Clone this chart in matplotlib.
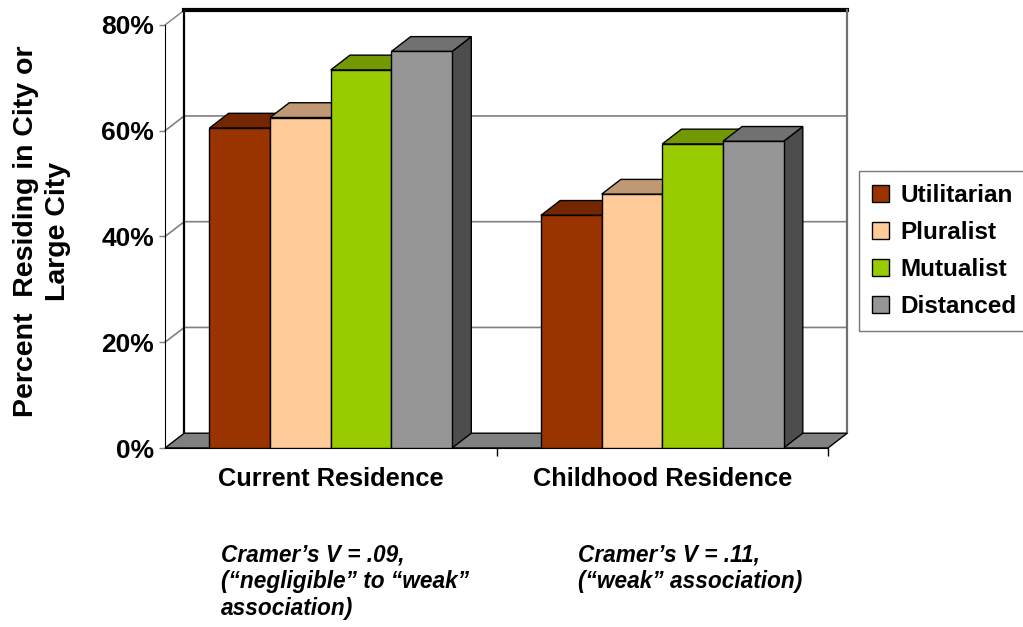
import numpy as np
import matplotlib
matplotlib.use('Agg')
import matplotlib.pyplot as plt
from matplotlib.patches import Polygon, Patch
from matplotlib.colors import to_rgb

categories = ['Current Residence', 'Childhood Residence']
series_names = ['Utilitarian', 'Pluralist', 'Mutualist', 'Distanced']
utilitarian = [60.5, 44]
pluralist = [62.5, 48]
mutualist = [71.5, 57.5]
distanced = [75, 58]
series_colors = ['#993300', '#FFCC99', '#99CC00', '#969696']
y_ticks = [0, 20, 40, 60, 80]
notes = ['Cramer\u2019s V = .09,\n(\u201cnegligible\u201d to \u201cweak\u201d\nassociation)',
         'Cramer\u2019s V = .11,\n(\u201cweak\u201d association)']

plt.rcParams['font.family'] = ['Liberation Sans', 'DejaVu Sans']


def shade(color, k):
    return tuple(c * k for c in to_rgb(color))


W, H = 1023, 627
fig = plt.figure(figsize=(W / 100, H / 100), dpi=100)
ax = fig.add_axes([165 / W, 179 / H, 663 / W, 423 / H])
ax.set_xlim(0, 2)
ax.set_ylim(0, 80)

# depth of the fake 3d box, in data units
dx, dy = 0.058, 2.8
ymax = y_ticks[-1]
xmax = len(categories)

# walls and floor
ax.add_patch(Polygon([(0, 0), (dx, dy), (dx, ymax + dy), (0, ymax)],
                     facecolor='white', edgecolor='none', zorder=1, clip_on=False))
ax.add_patch(Polygon([(dx, dy), (xmax + dx, dy), (xmax + dx, ymax + dy), (dx, ymax + dy)],
                     facecolor='white', edgecolor='none', zorder=1, clip_on=False))
for v in y_ticks[1:-1]:
    ax.plot([0, dx, xmax + dx], [v, v + dy, v + dy], color='#808080', lw=1.2,
            zorder=1.2, clip_on=False)
ax.plot([0, dx], [ymax, ymax + dy], color='#808080', lw=1.0, zorder=1.2, clip_on=False)
ax.plot([dx, xmax + dx], [ymax + dy, ymax + dy], color='black', lw=3, zorder=1.3,
        clip_on=False, solid_capstyle='projecting')
ax.plot([dx, dx], [dy, ymax + dy], color='black', lw=1.6, zorder=1.3, clip_on=False)
ax.plot([xmax + dx, xmax + dx], [dy, ymax + dy], color='#707070', lw=1.6, zorder=1.3,
        clip_on=False)
ax.add_patch(Polygon([(0, 0), (xmax, 0), (xmax + dx, dy), (dx, dy)],
                     facecolor='#808080', edgecolor='black', lw=1, zorder=1.5, clip_on=False))

# bars
values = [utilitarian, pluralist, mutualist, distanced]
n = len(values)
w = 0.183
x = np.arange(len(categories)) + 0.5 - n * w / 2
for j, (vals, col) in enumerate(zip(values, series_colors)):
    x0s = x + j * w
    z = 3 + j
    for x0, h in zip(x0s, vals):
        ax.add_patch(Polygon([(x0 + w, 0), (x0 + w + dx, dy), (x0 + w + dx, h + dy), (x0 + w, h)],
                             facecolor=shade(col, 0.51), edgecolor='black', lw=1,
                             zorder=z - 0.1, clip_on=False))
        ax.add_patch(Polygon([(x0, h), (x0 + w, h), (x0 + w + dx, h + dy), (x0 + dx, h + dy)],
                             facecolor=shade(col, 0.75), edgecolor='black', lw=1,
                             zorder=z - 0.1, clip_on=False))
    ax.bar(x0s, vals, w, align='edge', color=col, edgecolor='black', lw=1, zorder=z)

# axes
for s in ['top', 'right']:
    ax.spines[s].set_visible(False)
ax.spines['left'].set_color('black')
ax.spines['bottom'].set_color('black')
ax.spines['left'].set_zorder(2)
ax.spines['bottom'].set_zorder(2)

ax.set_yticks(y_ticks)
ax.set_yticklabels([f'{v}%' for v in y_ticks], fontsize=19, fontweight='bold')
ax.tick_params(axis='y', length=4, width=1, color='#808080', pad=4)

ax.set_xticks(np.arange(1, xmax + 1))
ax.set_xticklabels([])
ax.tick_params(axis='x', which='major', length=6, width=1, color='black')
ax.set_xticks(np.arange(len(categories)) + 0.5, minor=True)
ax.set_xticklabels(categories, minor=True, fontsize=18.3, fontweight='bold')
ax.tick_params(axis='x', which='minor', length=0, pad=14)

fig.text(42 / W, 1 - 231 / H, 'Percent  Residing in City or\nLarge City', rotation=90,
         ha='center', va='center', fontsize=20.5, fontweight='bold', linespacing=1.26)

ax.text(0.085, -0.225, notes[0], transform=ax.transAxes, ha='left', va='top',
        fontsize=16.3, fontweight='bold', style='italic', linespacing=1.22)
ax.text(0.623, -0.225, notes[1], transform=ax.transAxes, ha='left', va='top',
        fontsize=16.3, fontweight='bold', style='italic', linespacing=1.22)

handles = [Patch(facecolor=c, edgecolor='black', lw=1) for c in series_colors]
leg = fig.legend(handles, series_names, loc='upper left',
                 bbox_to_anchor=(859 / W, 1 - 171 / H),
                 prop={'size': 17.5, 'weight': 'bold'}, frameon=True, fancybox=False,
                 edgecolor='#555555', handlelength=0.7, handleheight=0.7,
                 handletextpad=0.45, labelspacing=0.57, borderpad=0.55, borderaxespad=0)
leg.get_frame().set_linewidth(1)

fig.savefig('out.png', dpi=100)
